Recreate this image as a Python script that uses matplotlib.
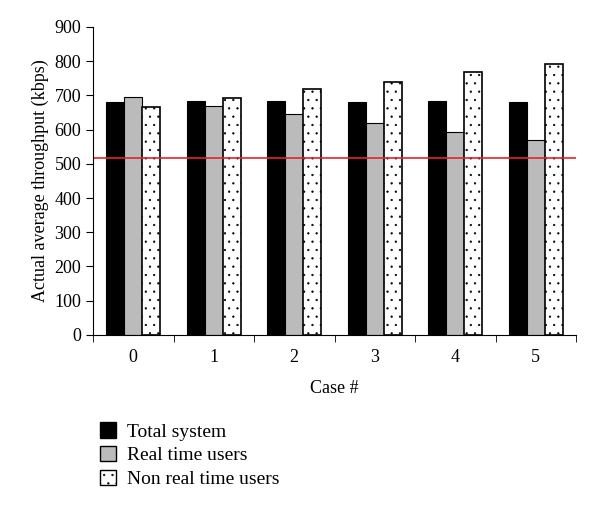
import matplotlib
matplotlib.use("Agg")
import matplotlib.pyplot as plt
import numpy as np
from matplotlib.patches import Patch

cases = ["0", "1", "2", "3", "4", "5"]
total_system = [681, 683, 685, 681, 683, 680]
real_time = [696, 670, 647, 618, 594, 571]
non_real_time = [666, 693, 720, 738, 767, 791]
threshold = 517

plt.rcParams["font.family"] = ["Liberation Serif", "DejaVu Serif"]
plt.rcParams["hatch.linewidth"] = 0.4
plt.rcParams["hatch.color"] = "#555555"

fig = plt.figure(figsize=(6.0, 5.09), dpi=100)
ax = fig.add_axes([0.155, 0.342, 0.805, 0.605])

x = np.arange(len(cases))
w = 0.225
ax.bar(x - w, total_system, w, color="black", edgecolor="black", lw=0.8)
ax.bar(x, real_time, w, color="#bbbbbb", edgecolor="black", lw=0.8)
ax.bar(x + w, non_real_time, w, color="white", edgecolor="black", lw=1.2,
       hatch="..")
ax.axhline(threshold, color="#e8202a", lw=1.2)

ax.set_xlim(-0.5, len(cases) - 0.5)
ax.set_ylim(0, 900)
ax.set_yticks(range(0, 901, 100))
ax.set_xticks(x)
ax.set_xticklabels(cases, fontsize=13)
ax.set_xticks(np.arange(-0.5, len(cases), 1.0), minor=True)
ax.tick_params(axis="x", which="major", length=0, pad=10)
ax.tick_params(axis="x", which="minor", length=5, direction="out")
ax.tick_params(axis="y", labelsize=13, length=5, direction="out")
for s in ["top", "right"]:
    ax.spines[s].set_visible(False)
ax.set_xlabel("Case #", fontsize=13, labelpad=10)
ax.set_ylabel("Actual average throughput (kbps)", fontsize=13, labelpad=4)

handles = [
    Patch(facecolor="black", edgecolor="black", label="Total system"),
    Patch(facecolor="#bbbbbb", edgecolor="black", label="Real time users"),
    Patch(facecolor="white", edgecolor="black", hatch="..",
          label="Non real time users"),
]
fig.legend(handles=handles, loc="upper left", bbox_to_anchor=(0.137, 0.205),
           frameon=False, fontsize=14, handlelength=0.85, handleheight=0.85,
           labelspacing=0.27, handletextpad=0.55)

fig.savefig("out.png", dpi=100)
